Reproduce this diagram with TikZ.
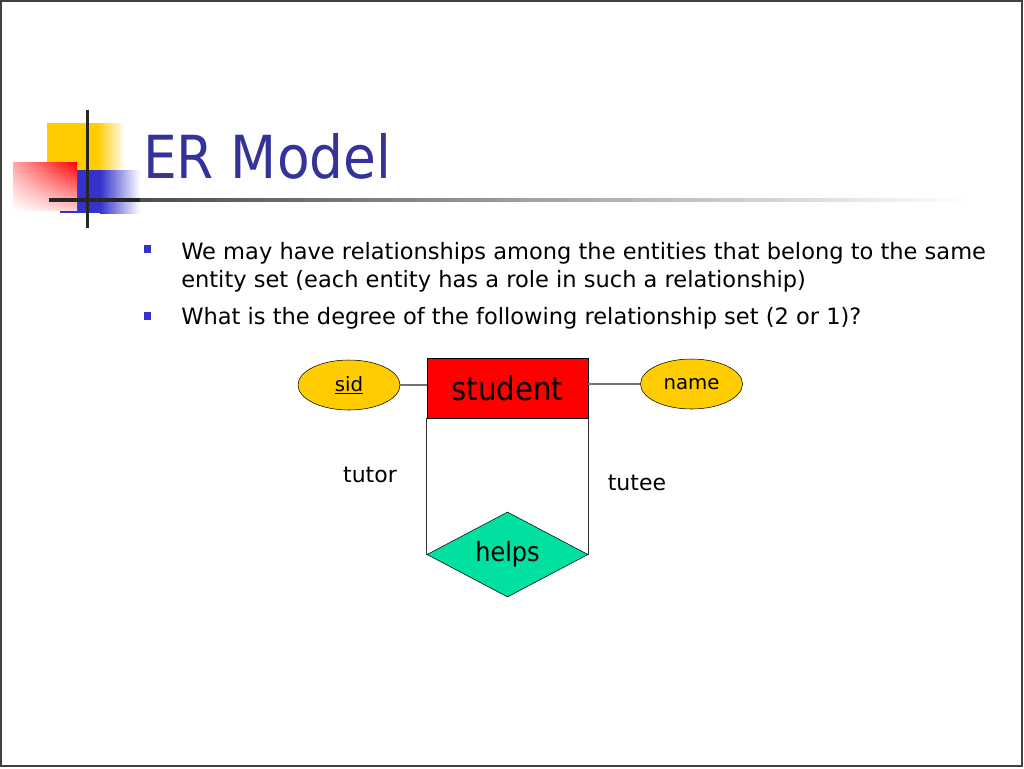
\documentclass[tikz,border=0pt]{standalone}
\usepackage{fontspec}
\setmainfont{DejaVu Sans}
\newfontfamily\narrowfont{DejaVu Sans Condensed}
\usetikzlibrary{shapes.geometric, shadings}

\begin{document}
\begin{tikzpicture}[x=0.75pt, y=-0.75pt,
	title/.style = {anchor=base west, inner sep=0pt, text=titleblue, font=\narrowfont\fontsize{44.5}{53}\selectfont},
	bodytext/.style = {anchor=base west, inner sep=0pt, font=\fontsize{16.9}{20}\selectfont},
	bulletbox/.style = {fill=bulletblue, minimum size=5.5pt, inner sep=0pt},
	attr/.style = {ellipse, draw=black, fill=attryellow, minimum width=76.5pt, minimum height=37.5pt, inner sep=0pt, font=\fontsize{14.8}{17}\selectfont},
	entity/.style = {rectangle, draw=black, fill=red, minimum width=120.75pt, minimum height=45pt, inner sep=0pt, font=\narrowfont\fontsize{24.4}{29}\selectfont},
	relship/.style = {diamond, aspect=1.9, draw=black, fill=relgreen, minimum width=120.75pt, minimum height=63.75pt, inner sep=0pt, font=\narrowfont\fontsize{20}{24}\selectfont},
	role/.style = {anchor=base, inner sep=0pt, font=\fontsize{16.5}{19}\selectfont}]
	\definecolor{titleblue}{HTML}{333399}
	\definecolor{bulletblue}{HTML}{3333CC}
	\definecolor{decoyellow}{HTML}{FFCC00}
	\definecolor{decoblue}{HTML}{3333CC}
	\definecolor{attryellow}{HTML}{FFCC00}
	\definecolor{relgreen}{HTML}{00E0A0}
	\useasboundingbox (0,0) rectangle (1024,768);
	\fill[white] (0,0) rectangle (1024,768);
	\draw[black!75, line width=1.5pt] (1,1) rectangle (1022,766);
	% corner decoration
	\fill[decoyellow] (47,123) rectangle (97,170);
	\shade[left color=decoyellow, right color=white] (97,123) rectangle (125,170);
	\fill[decoblue] (60,170) rectangle (100,213);
	\shade[left color=decoblue, right color=white] (100,170) rectangle (140,213);
	\shade[upper left=red!35, upper right=red, lower left=white, lower right=red!20] (13,162) rectangle (77,210);
	\fill[black!85] (49,198) rectangle (140,202);
	\shade[left color=black!70, right color=white] (140,198.5) rectangle (970,201.5);
	\draw[black!85, line width=2.25pt] (87,110) -- (87,228);
	% title and bullets
	\node[title] (heading) at (143,178) {ER Model};
	\node[bulletbox] (bul1) at (147.5,249) {};
	\node[bodytext] (line1) at (181,259) {We may have relationships among the entities that belong to the same};
	\node[bodytext] (line2) at (181,287) {entity set (each entity has a role in such a relationship)};
	\node[bulletbox] (bul2) at (147.5,316) {};
	\node[bodytext] (line3) at (181,324) {What is the degree of the following relationship set (2 or 1)?};
	% ER diagram
	\node[entity] (student) at (507.5,388) {student};
	\node[attr] (sid) at (349,385) {\underline{sid}};
	\node[attr] (name) at (691.5,384) {name};
	\node[relship] (helps) at (507.5,554.5) {helps};
	\draw[black!55, line width=0.9pt] (sid) -- (student.west |- sid);
	\draw[black!55, line width=0.9pt] (student.east |- name) -- (name);
	\draw[black!80] (student.south west) -- (helps.west);
	\draw[black!80] (student.south east) -- (helps.east);
	\node[role] (tutor) at (370,482) {tutor};
	\node[role] (tutee) at (637,490) {tutee};
\end{tikzpicture}
\end{document}
